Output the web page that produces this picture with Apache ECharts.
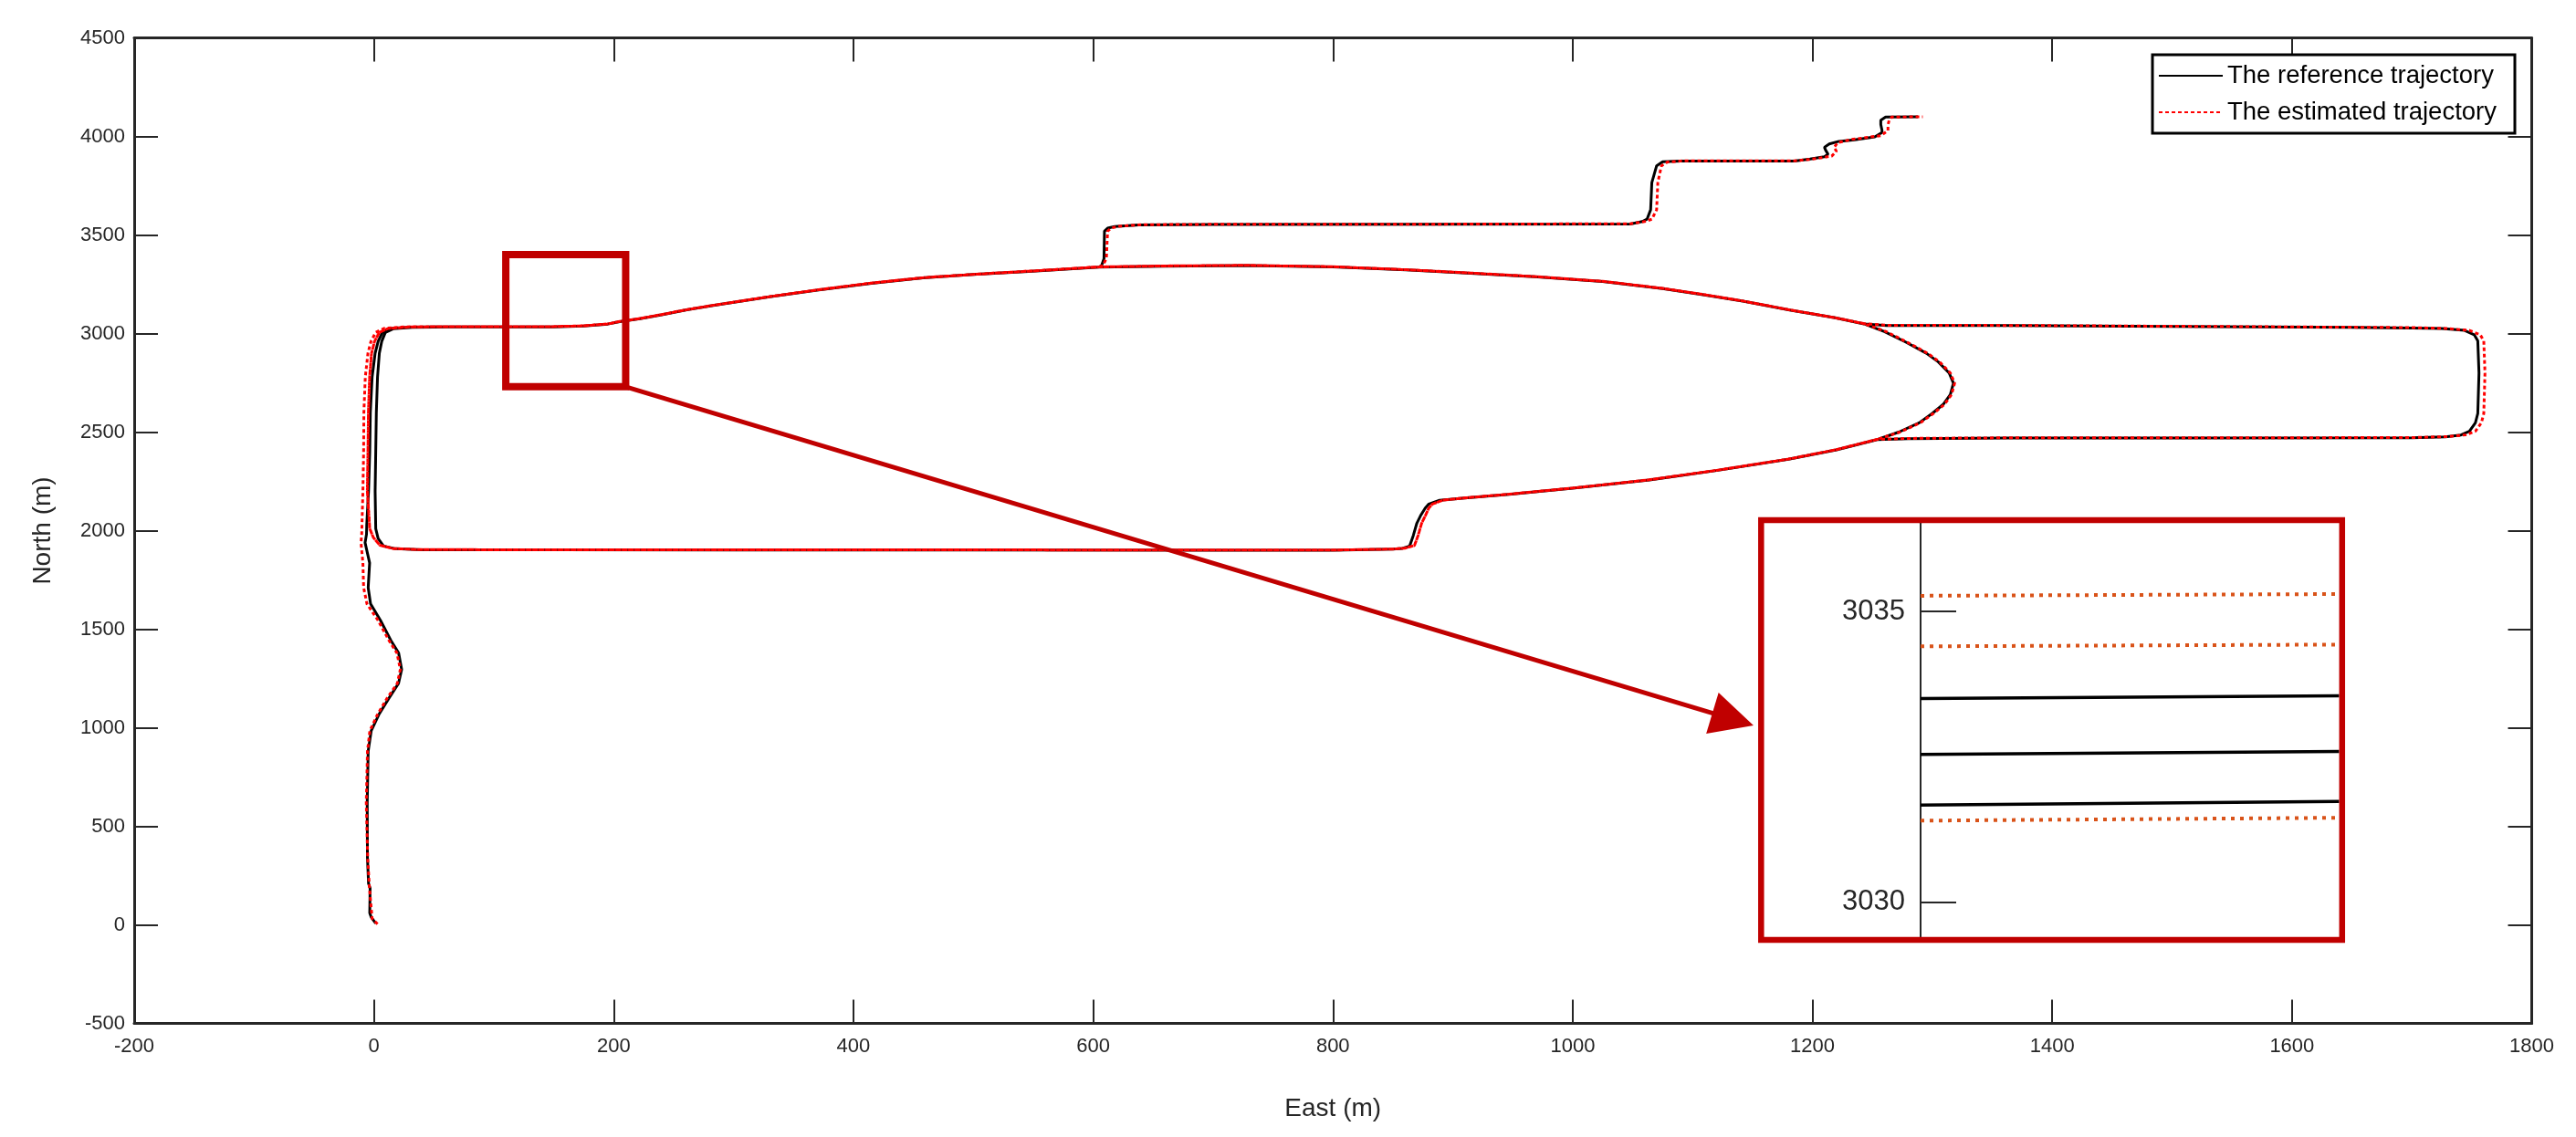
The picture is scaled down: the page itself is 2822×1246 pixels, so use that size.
<!DOCTYPE html>
<html>
<head>
<meta charset="utf-8">
<script src="https://cdn.jsdelivr.net/npm/echarts@6/dist/echarts.min.js"></script>
<style>
html,body{margin:0;padding:0;background:#fff;}
#chart{width:2822px;height:1246px;}
</style>
</head>
<body>
<div id="chart"></div>
<script>
// ---------------- DATA (East m, North m) ----------------
const xTicks = [-200, 1800, 200];   // min, max, step
const yTicks = [-500, 4500, 500];
const insetTicks = [3030, 3035];
const insetRange = [3029.4, 3036.52];
const insetEastRange = [150, 160];

// reference trajectory pieces
const refStartNorth = [[1.5, 8], [-2.3, 39], [-3.5, 60], [-3.2, 186], [-4.5, 209], [-5.4, 340], [-5.6, 618], [-4.8, 881], [-2.3, 984], [4.1, 1067], [12.5, 1150], [20.5, 1225], [23.1, 1296], [20.6, 1379], [14.2, 1442], [5.4, 1545], [-2.8, 1628], [-4.8, 1711], [-3.6, 1836], [-7.4, 1939], [-6.2, 1981]];
const refWestNorthA = [[-6, 2030], [-4.5, 2200], [-3.5, 2400], [-3, 2600], [-1.5, 2780], [1, 2900], [3.5, 2960], [7, 3005], [14, 3025], [30, 3032], [50, 3033.5]];
const refWestNorthB = [[40, 1903], [18, 1908], [8, 1922], [3.5, 1960], [1.5, 2010], [1, 2200], [1.5, 2400], [2, 2600], [3, 2780], [4.5, 2900], [6.5, 2960], [9.5, 3005], [16, 3024], [32, 3031], [50, 3032.5]];
const refTopEdge = [[60, 3033], [110, 3033.3], [150, 3034], [175, 3038], [195, 3048], [205, 3060], [222, 3075], [240, 3095], [261, 3120], [283, 3142], [330, 3186], [371, 3221], [415, 3255], [458, 3282], [500, 3300], [546, 3315], [605, 3337]];
const refArcTop = [[660, 3342], [728, 3345], [800, 3338], [861, 3323], [915, 3306], [968, 3288], [1025, 3264], [1075, 3228], [1110, 3196], [1142, 3164], [1182, 3118], [1219, 3080], [1243, 3049]];
const refRectLoop = [[1262, 3041], [1363, 3040], [1500, 3036], [1649, 3031], [1700, 3028], [1725, 3025], [1744, 3016], [1752, 2994], [1755, 2963], [1756, 2800], [1755, 2594], [1753, 2547], [1748, 2504], [1741, 2485], [1728, 2476], [1700, 2471], [1500, 2470], [1363, 2470], [1280, 2467], [1254, 2462]];
const refTipLoop = [[1260, 3010], [1278, 2956], [1295, 2900], [1305, 2856], [1314, 2800], [1317.6, 2748], [1315, 2690], [1309, 2640], [1300, 2595], [1289, 2547], [1272, 2500], [1254, 2462]];
const refArcBottom = [[1220, 2410], [1180, 2362], [1120, 2305], [1064, 2257], [1000, 2215], [947, 2184], [910, 2166], [889, 2154], [880, 2135], [877, 2115], [873, 2075], [870, 2038], [867, 1975], [864, 1922], [858, 1910], [850, 1906]];
const refBottomEdge = [[800, 1901], [700, 1901], [500, 1902], [300, 1902], [150, 1902.5], [60, 1903]];
const refStairs = [[607, 3345], [609, 3380], [609.4, 3519], [612, 3535], [618, 3543], [638, 3551], [700, 3553], [900, 3554], [1048, 3556], [1058, 3568], [1062, 3580], [1065, 3628], [1066, 3766], [1070, 3851], [1075, 3871], [1090, 3875], [1185, 3875], [1198, 3885], [1210, 3897], [1213, 3910], [1211, 3930], [1210, 3945], [1214, 3962], [1222, 3975], [1235, 3983], [1252, 3998], [1258, 4020], [1258, 4031], [1257, 4060], [1257, 4082], [1261, 4098], [1288, 4100]];

// estimated trajectory pieces
const estStartNorth = [[3, 4], [-1.5, 32], [-3.8, 190], [-5.2, 340], [-6.4, 620], [-5.4, 880], [-3.4, 985], [2.8, 1065], [11, 1150], [19.5, 1225], [22, 1296], [19.2, 1379], [12.6, 1442], [3.4, 1545], [-5.8, 1628], [-8.6, 1711], [-9.2, 1836], [-10.8, 1939], [-10.2, 1981]];
const estWestNorthA = [[-10, 2030], [-9.2, 2200], [-8.6, 2400], [-8.4, 2600], [-7.2, 2780], [-5, 2900], [-2.5, 2960], [1.5, 3006], [9, 3027], [27, 3034], [50, 3035]];
const estWestNorthB = [[40, 1903.5], [16, 1909], [5, 1926], [-0.5, 1965], [-3.5, 2010], [-5.5, 2200], [-5, 2400], [-4.6, 2600], [-3.6, 2780], [-2, 2900], [0.5, 2960], [4.5, 3006], [12, 3026], [30, 3033], [50, 3034.5]];
const estTopEdge = [[60, 3034.5], [110, 3034.8], [150, 3035.3], [175, 3039], [195, 3049], [205, 3061], [222, 3076], [240, 3096], [261, 3121], [283, 3143], [330, 3187], [371, 3222], [415, 3256], [458, 3283], [500, 3300], [546, 3316], [605, 3338]];
const estArcTop = [[660, 3343], [728, 3346], [800, 3339], [861, 3324], [915, 3307], [968, 3289], [1025, 3265], [1075, 3229], [1110, 3197], [1142, 3165], [1182, 3119], [1219, 3080], [1243, 3050]];
const estRectLoop = [[1262, 3042], [1363, 3041], [1500, 3037], [1649, 3032], [1700, 3030], [1728, 3026], [1748, 3016], [1757, 2994], [1760, 2963], [1761, 2800], [1760, 2594], [1758, 2547], [1753, 2504], [1745, 2486], [1730, 2477], [1700, 2472], [1500, 2471], [1363, 2471], [1280, 2468], [1254, 2463]];
const estTipLoop = [[1261, 3011], [1279, 2956], [1296, 2900], [1306, 2856], [1315, 2800], [1318.6, 2748], [1316, 2690], [1310, 2640], [1301, 2595], [1290, 2547], [1273, 2500], [1254, 2463]];
const estArcBottom = [[1220, 2411], [1180, 2363], [1120, 2306], [1064, 2258], [1000, 2216], [947, 2185], [912, 2167], [892, 2155], [883, 2135], [880, 2115], [877, 2075], [874, 2038], [871, 1975], [868, 1925], [860, 1911], [850, 1906.5]];
const estBottomEdge = [[800, 1901.5], [700, 1901.5], [500, 1902.5], [300, 1902.5], [150, 1903], [60, 1903.5]];
const estStairs = [[608, 3345], [611, 3380], [612, 3519], [615, 3535], [621, 3544], [640, 3552], [700, 3554], [900, 3555], [1048, 3557], [1060, 3568], [1066, 3580], [1070, 3628], [1071, 3766], [1074, 3851], [1079, 3870], [1092, 3876], [1185, 3876], [1200, 3885], [1216, 3900], [1220, 3925], [1218, 3944], [1221, 3968], [1232, 3984], [1257, 4004], [1263, 4030], [1263, 4060], [1264, 4082], [1266, 4098], [1292, 4100]];

// zoomed-in inset: three passes of each trajectory near North 3030-3036
const insetRefA = [[150, 3033.50], [160, 3033.55]];
const insetRefB = [[150, 3032.54], [160, 3032.59]];
const insetRefC = [[150, 3031.67], [160, 3031.73]];
const insetEstA = [[150, 3035.27], [160, 3035.30]];
const insetEstB = [[150, 3034.40], [160, 3034.43]];
const insetEstC = [[150, 3031.40], [160, 3031.45]];

// annotation (data coordinates): zoom box corners and arrow start/end
const zoomBox = [[110, 3400], [210, 2730]];
const arrowPts = [[210, 2730], [1150.8, 1011.6]];

const seriesNames = ['The reference trajectory', 'The estimated trajectory'];

// ---------------- BUILD ----------------
const refPath = [].concat(refStartNorth, refWestNorthA, refTopEdge, refArcTop, refRectLoop, refArcBottom, refBottomEdge,
  refWestNorthB, refTopEdge, refArcTop, refTipLoop, refArcBottom, refBottomEdge,
  refWestNorthB, refTopEdge, refStairs);
const estPath = [].concat(estStartNorth, estWestNorthA, estTopEdge, estArcTop, estRectLoop, estArcBottom, estBottomEdge,
  estWestNorthB, estTopEdge, estArcTop, estTipLoop, estArcBottom, estBottomEdge,
  estWestNorthB, estTopEdge, estStairs);

const FONT = '"Liberation Sans", Arial, Helvetica, sans-serif';
const AX = '#262626';
const BOX = '#C00000';
const plain = function (v) { return String(v); };

const grid = {left: 147, right: 48.5, top: 41.5, bottom: 124.5};
const insetGrid = {left: 2104, top: 573.3, width: 458.5, height: 453.4};

function mainAxis(pos, isX, showLabel) {
  const t = isX ? xTicks : yTicks;
  return {
    type: 'value', gridIndex: 0, position: pos,
    min: t[0], max: t[1], interval: t[2],
    axisLine: {show: true, onZero: false, lineStyle: {color: AX, width: 3}},
    axisTick: {show: true, inside: true, length: 26, lineStyle: {color: AX, width: 2}},
    axisLabel: {show: showLabel, color: AX, fontSize: 22, fontFamily: FONT, margin: isX ? 14 : 10,
      showMinLabel: true, showMaxLabel: true, formatter: plain},
    splitLine: {show: false}
  };
}

const xMain = Object.assign(mainAxis('bottom', true, true), {
  name: 'East (m)', nameLocation: 'middle', nameGap: 80,
  nameTextStyle: {color: AX, fontSize: 28, fontFamily: FONT}
});
const yMain = Object.assign(mainAxis('left', false, true), {
  name: 'North (m)', nameLocation: 'middle', nameGap: 86,
  nameTextStyle: {color: AX, fontSize: 28, fontFamily: FONT}
});

function insetLine(name, data, isRef) {
  return {
    type: 'line', name: name, xAxisIndex: 2, yAxisIndex: 2, data: data,
    symbol: 'none', silent: true, z: 12,
    lineStyle: isRef ? {color: '#000', width: 3.5} : {color: '#D95319', width: 4, type: [4, 6]}
  };
}

const option = {
  animation: false,
  backgroundColor: '#fff',
  textStyle: {fontFamily: FONT},
  grid: [
    Object.assign({}, grid),
    Object.assign({}, insetGrid)
  ],
  xAxis: [
    xMain,
    mainAxis('top', true, false),
    {type: 'value', gridIndex: 1, min: insetEastRange[0], max: insetEastRange[1], show: false}
  ],
  yAxis: [
    yMain,
    mainAxis('right', false, false),
    {
      type: 'value', gridIndex: 1, position: 'left',
      min: insetRange[0], max: insetRange[1],
      axisLine: {show: true, onZero: false, lineStyle: {color: AX, width: 2}},
      axisTick: {show: true, inside: true, length: 39, customValues: insetTicks, lineStyle: {color: AX, width: 2}},
      axisLabel: {show: true, color: AX, fontSize: 31, fontFamily: FONT, margin: 17, customValues: insetTicks, formatter: plain},
      splitLine: {show: false}
    }
  ],
  legend: {
    data: seriesNames,
    orient: 'vertical',
    right: 67, top: 60,
    itemWidth: 70, itemHeight: 26, itemGap: 12, itemTextGap: 6,
    padding: [9, 20, 9, 6],
    borderColor: '#000', borderWidth: 3, borderRadius: 0,
    backgroundColor: '#fff',
    selectedMode: false,
    itemStyle: {opacity: 0},
    textStyle: {color: '#000', fontSize: 27.5, fontFamily: FONT}
  },
  graphic: [{
    type: 'rect', z: 20,
    shape: {x: 1929.3, y: 570, width: 636.5, height: 460},
    style: {fill: 'none', stroke: BOX, lineWidth: 6.5}
  }],
  series: [
    {
      type: 'line', name: seriesNames[0], xAxisIndex: 0, yAxisIndex: 0, data: refPath,
      symbol: 'none', showSymbol: false, z: 3,
      lineStyle: {color: '#000', width: 3}, itemStyle: {color: '#000'}
    },
    {
      type: 'line', name: seriesNames[1], xAxisIndex: 0, yAxisIndex: 0, data: estPath,
      symbol: 'none', showSymbol: false, z: 4,
      lineStyle: {color: '#ff0000', width: 3, type: [4, 3]}, itemStyle: {color: '#ff0000'}
    },
    {
      type: 'custom', name: 'zoomBox', xAxisIndex: 0, yAxisIndex: 0, silent: true, z: 8,
      data: [[zoomBox[0][0], zoomBox[0][1], zoomBox[1][0], zoomBox[1][1]]],
      encode: {x: [0, 2], y: [1, 3]},
      renderItem: function (params, api) {
        const p0 = api.coord([api.value(0), api.value(1)]);
        const p1 = api.coord([api.value(2), api.value(3)]);
        return {
          type: 'rect',
          shape: {x: Math.min(p0[0], p1[0]), y: Math.min(p0[1], p1[1]),
                  width: Math.abs(p1[0] - p0[0]), height: Math.abs(p1[1] - p0[1])},
          style: {fill: 'none', stroke: BOX, lineWidth: 8}
        };
      }
    },
    {
      type: 'custom', name: 'arrow', xAxisIndex: 0, yAxisIndex: 0, silent: true, z: 8,
      data: [[arrowPts[0][0], arrowPts[0][1], arrowPts[1][0], arrowPts[1][1]]],
      encode: {x: [0, 2], y: [1, 3]},
      renderItem: function (params, api) {
        const a = api.coord([api.value(0), api.value(1)]);
        const b = api.coord([api.value(2), api.value(3)]);
        const dx = b[0] - a[0], dy = b[1] - a[1];
        const L = Math.sqrt(dx * dx + dy * dy);
        const ux = dx / L, uy = dy / L, nx = -uy, ny = ux;
        const headLen = 47, headHalf = 23.5;
        const base = [b[0] - ux * headLen, b[1] - uy * headLen];
        return {
          type: 'group',
          children: [
            {type: 'line', shape: {x1: a[0], y1: a[1], x2: base[0] + ux * 4, y2: base[1] + uy * 4},
             style: {stroke: BOX, lineWidth: 5}},
            {type: 'polygon', shape: {points: [[b[0], b[1]],
              [base[0] + nx * headHalf, base[1] + ny * headHalf],
              [base[0] - nx * headHalf, base[1] - ny * headHalf]]},
             style: {fill: BOX, stroke: 'none'}}
          ]
        };
      }
    },
    insetLine('insetRefA', insetRefA, true),
    insetLine('insetRefB', insetRefB, true),
    insetLine('insetRefC', insetRefC, true),
    insetLine('insetEstA', insetEstA, false),
    insetLine('insetEstB', insetEstB, false),
    insetLine('insetEstC', insetEstC, false)
  ]
};

const chart = echarts.init(document.getElementById('chart'), null, {renderer: 'canvas', width: 2822, height: 1246});
chart.setOption(option);
</script>
</body>
</html>
